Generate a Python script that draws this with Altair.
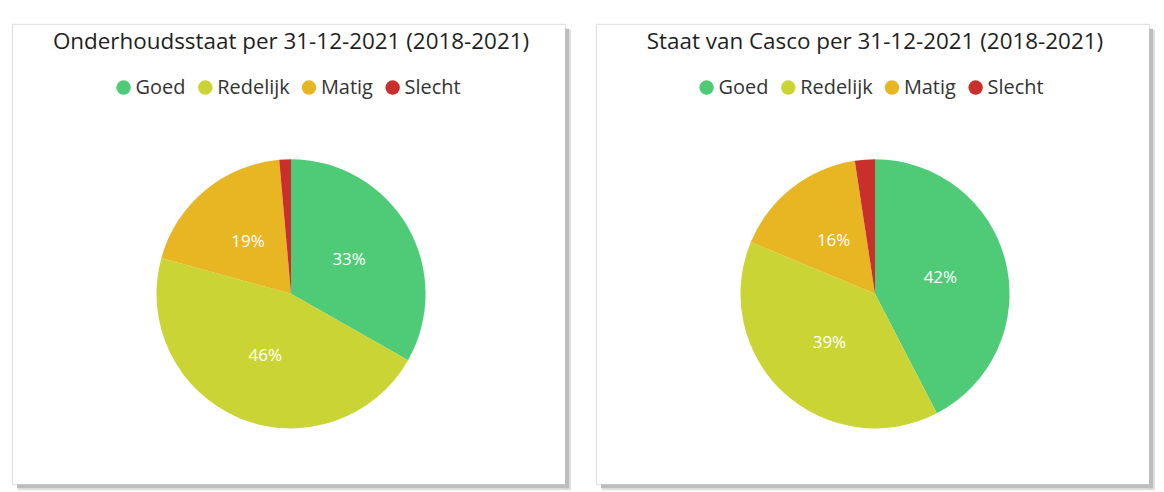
import altair as alt
import pandas as pd

categories = ["Goed", "Redelijk", "Matig", "Slecht"]
colors = ["#4FCB78", "#CBD435", "#E8B523", "#C9302C"]
left_title = "Onderhoudsstaat per 31-12-2021 (2018-2021)"
left_values = [33.2, 46.1, 19.3, 1.4]
right_title = "Staat van Casco per 31-12-2021 (2018-2021)"
right_values = [42.4, 38.9, 16.3, 2.4]

W, H = 555, 462
CX, CY, R = 280, 271, 135
FONT = "Open Sans"


def panel(title, values, legend_x):
    df = pd.DataFrame({"cat": categories, "share": values, "ord": list(range(len(categories)))})
    base = alt.Chart(df).transform_calculate(
        label="datum.share > 5 ? format(datum.share / 100, '.0%') : ''"
    )
    color = alt.Color(
        "cat:N",
        scale=alt.Scale(domain=categories, range=colors),
        legend=alt.Legend(
            title=None, orient="none", direction="horizontal", legendX=legend_x, legendY=54,
            symbolType="circle", symbolSize=210, labelFont=FONT, labelFontSize=20,
            labelColor="#333333", labelOffset=2, columnPadding=9, symbolStrokeWidth=0,
        ),
    )
    arcs = base.mark_arc(outerRadius=R).encode(
        theta=alt.Theta("share:Q", stack=True),
        color=color,
        order=alt.Order("ord:Q"),
        x=alt.value(CX), y=alt.value(CY),
    )
    labels = base.mark_text(radius=R / 2, font=FONT, fontSize=17, color="white").encode(
        theta=alt.Theta("share:Q", stack=True),
        order=alt.Order("ord:Q"),
        text="label:N",
        x=alt.value(CX), y=alt.value(CY),
    )
    one = alt.Chart(pd.DataFrame({"t": [title]}))
    ttl = one.mark_text(font=FONT, fontSize=22.5, color="#1f1f1f").encode(
        text="t:N", x=alt.value(CX), y=alt.value(18)
    )
    sh1 = one.mark_rect(color="#bdbdbd").encode(
        x=alt.value(W), x2=alt.value(W + 4), y=alt.value(5), y2=alt.value(H + 4)
    )
    sh2 = one.mark_rect(color="#dedede").encode(
        x=alt.value(W + 4), x2=alt.value(W + 6), y=alt.value(6), y2=alt.value(H + 6)
    )
    sh3 = one.mark_rect(color="#bdbdbd").encode(
        x=alt.value(5), x2=alt.value(W + 4), y=alt.value(H), y2=alt.value(H + 4)
    )
    sh4 = one.mark_rect(color="#dedede").encode(
        x=alt.value(6), x2=alt.value(W + 4), y=alt.value(H + 4), y2=alt.value(H + 6)
    )
    return alt.layer(sh2, sh4, sh1, sh3, arcs, labels, ttl).properties(width=W, height=H)


chart = alt.hconcat(
    panel(left_title, left_values, 102),
    panel(right_title, right_values, 101),
    spacing=23,
).resolve_scale(color="independent").resolve_legend(color="independent").properties(
    padding={"left": 3, "top": 14, "right": 0, "bottom": 0}
).configure_view(fill="white", stroke="#ececec").configure(background="white")

chart.save("out.html", embed_options={"renderer": "svg", "actions": False})
